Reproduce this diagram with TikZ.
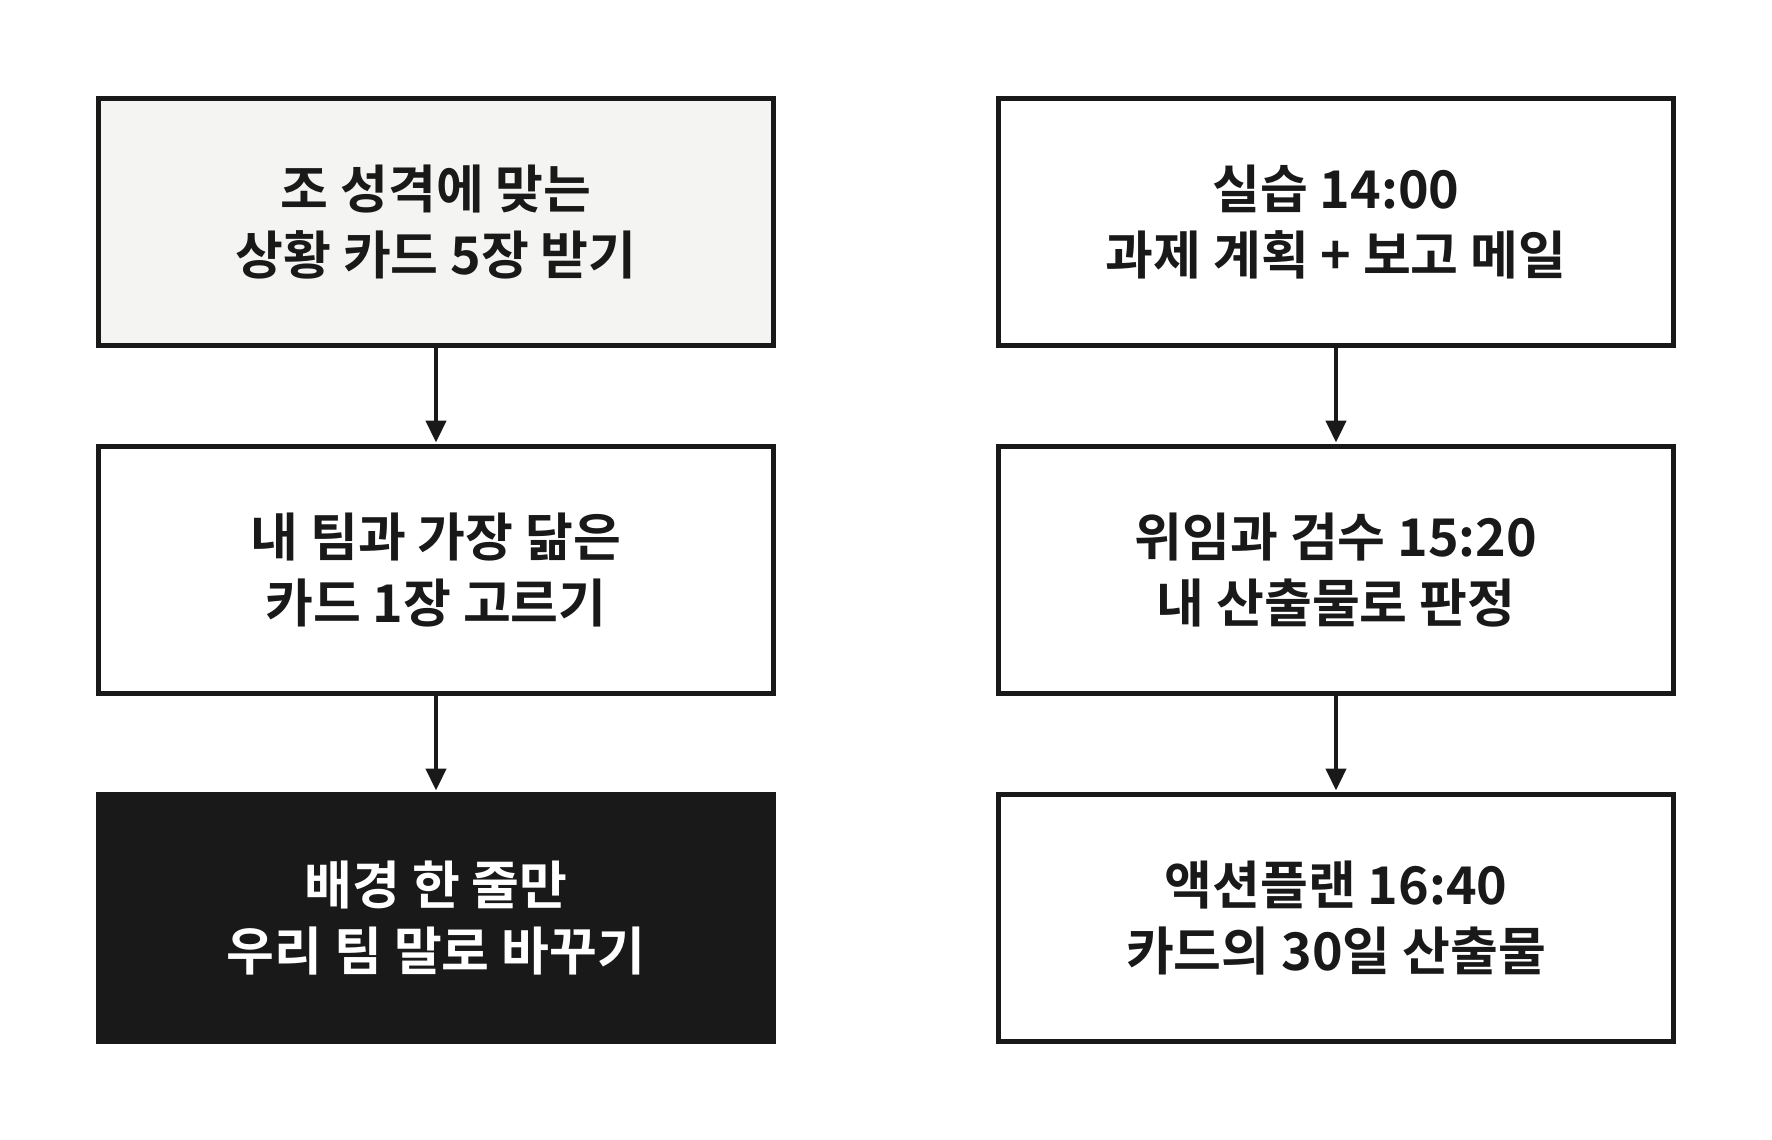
\documentclass[tikz,border=0pt]{standalone}
\usepackage{fontspec}
\setmainfont{Noto Sans CJK KR}[BoldFont={Noto Sans CJK KR Bold}]
\usetikzlibrary{arrows.meta}
\definecolor{ink}{HTML}{191919}
\definecolor{paper}{HTML}{F4F4F2}
\tikzset{
  card/.style={draw=ink, line width=5pt, fill=white, minimum width=675pt, minimum height=247pt,
    align=center, text=ink, inner sep=0pt,
    font=\bfseries\fontsize{52}{66}\selectfont},
  cardlight/.style={card, fill=paper},
  carddark/.style={card, fill=ink, text=white},
  flow/.style={draw=ink, line width=4.5pt, -{Triangle[length=22pt, width=20pt]}, shorten >=1.5pt}
}
\begin{document}
\begin{tikzpicture}[x=1pt, y=-1pt]
\useasboundingbox (0,0) rectangle (1772,1140);
\node[cardlight] (a1) at (436,222) {조 성격에 맞는\\상황 카드 5장 받기};
\node[card] (a2) at (436,570) {내 팀과 가장 닮은\\카드 1장 고르기};
\node[carddark] (a3) at (436,918) {배경 한 줄만\\우리 팀 말로 바꾸기};
\node[card] (b1) at (1336,222) {실습 14:00\\과제 계획 + 보고 메일};
\node[card] (b2) at (1336,570) {위임과 검수 15:20\\내 산출물로 판정};
\node[card] (b3) at (1336,918) {액션플랜 16:40\\카드의 30일 산출물};
\draw[flow] (a1) -- (a2);
\draw[flow] (a2) -- (a3);
\draw[flow] (b1) -- (b2);
\draw[flow] (b2) -- (b3);
\end{tikzpicture}
\end{document}
